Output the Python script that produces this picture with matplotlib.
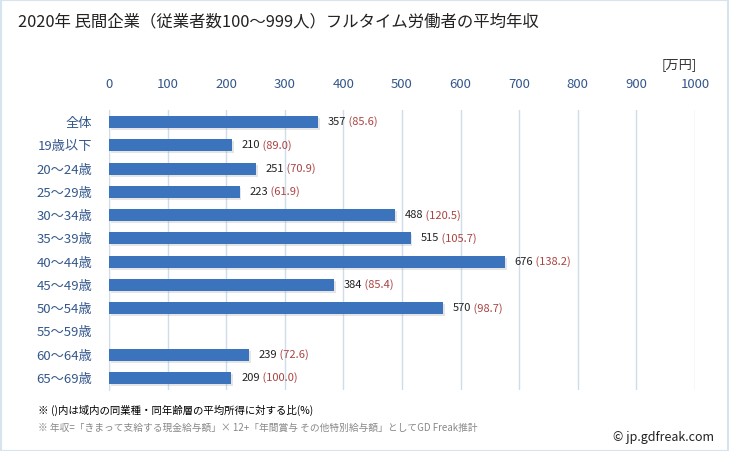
import numpy as np
import matplotlib
matplotlib.use("Agg")
import matplotlib.pyplot as plt
import matplotlib.patheffects as pe

plt.rcParams['font.family'] = ['Noto Sans CJK JP', 'DejaVu Sans']

# data
categories = ['全体', '19歳以下', '20～24歳', '25～29歳', '30～34歳', '35～39歳',
              '40～44歳', '45～49歳', '50～54歳', '55～59歳', '60～64歳', '65～69歳']
salary = [357, 210, 251, 223, 488, 515, 676, 384, 570, np.nan, 239, 209]
ratio = [85.6, 89.0, 70.9, 61.9, 120.5, 105.7, 138.2, 85.4, 98.7, np.nan, 72.6, 100.0]
xticks = list(range(0, 1001, 100))

title = '2020年 民間企業（従業者数100～999人）フルタイム労働者の平均年収'
note1 = '※ ()内は域内の同業種・同年齢層の平均所得に対する比(%)'
note2 = '※ 年収=「きまって支給する現金給与額」× 12+「年間賞与 その他特別給与額」としてGD Freak推計'

fig = plt.figure(figsize=(7.29, 4.51), dpi=100)
ax = fig.add_axes([109/729, 1-390/451, (695-109)/729, 280/451])

y = np.arange(len(categories))
bars = ax.barh(y, salary, height=0.52, color='#3b73bd', zorder=3)
for b in bars:
    b.set_path_effects([pe.SimplePatchShadow(offset=(1.2, -1.5), shadow_rgbFace='#999999', alpha=0.25), pe.Normal()])

for i, (s, r) in enumerate(zip(salary, ratio)):
    if np.isnan(s):
        continue
    t1 = ax.annotate(f'{s:.0f}', xy=(s, i), xytext=(7, 0), textcoords='offset points',
                     va='center', ha='left', fontsize=8, color='#222222')
    ax.annotate(f' ({r:.1f})', xy=(1, 0.5), xycoords=t1, va='center', ha='left',
                fontsize=8, color='#a94442')

ax.set_xlim(0, 1000)
ax.set_ylim(len(categories) - 0.484, -0.516)
ax.set_xticks(xticks)
ax.set_yticks(y)
ax.set_yticklabels(categories)
ax.xaxis.tick_top()
ax.tick_params(axis='x', length=0, pad=14, labelsize=9.5, labelcolor='#34578c')
ax.tick_params(axis='y', length=0, pad=12, labelsize=9.5, labelcolor='#34578c')
ax.grid(axis='x', color='#d0dcea', linewidth=1, zorder=0)
for sp in ['top', 'right', 'bottom']:
    ax.spines[sp].set_visible(False)
ax.spines['left'].set_color('#d0dcea')

fig.text(18/729, 1-22/451, title, fontsize=11.8, va='center', ha='left', color='#222222')
fig.text(697/729, 1-65/451, '[万円]', fontsize=9.5, va='center', ha='right', color='#333333')
fig.text(38/729, 1-410/451, note1, fontsize=7.5, va='center', ha='left', color='#000000')
fig.text(38/729, 1-428/451, note2, fontsize=7.0, va='center', ha='left', color='#888888')
fig.text(714/729, 1-437/451, '© jp.gdfreak.com', fontsize=9, va='center', ha='right', color='#222222')

# outer frame
fig.patches.append(plt.Rectangle((0.001, 0.001), 0.998, 0.998, transform=fig.transFigure,
                                 fill=False, edgecolor='#d6e4f0', linewidth=1.5))

fig.savefig('out.png', dpi=100)
